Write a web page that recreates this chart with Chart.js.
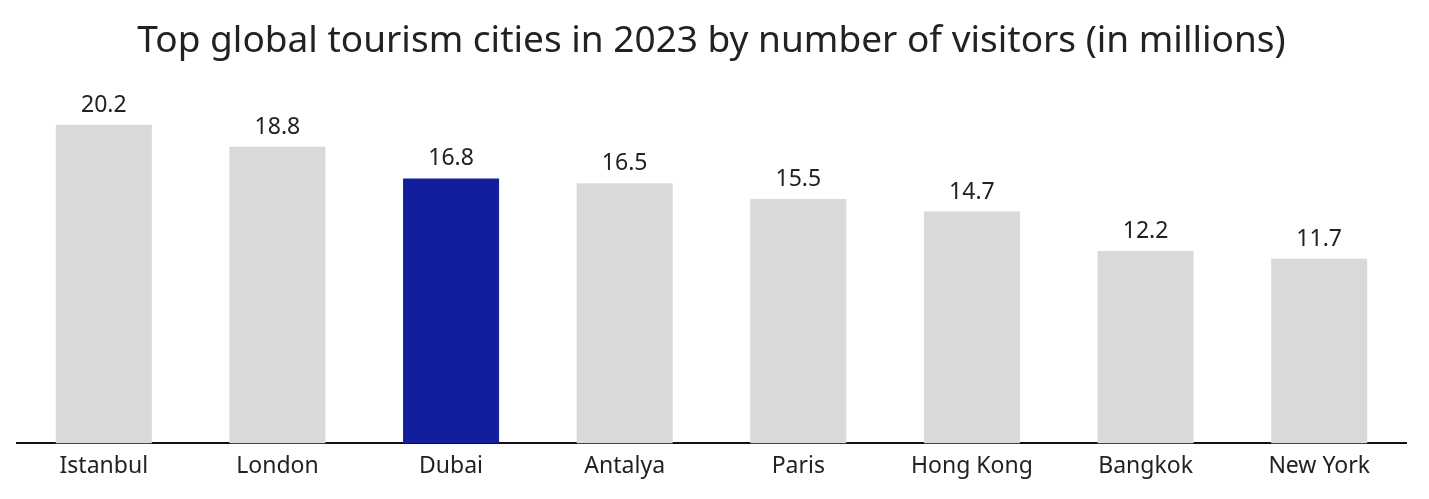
<!DOCTYPE html>
<html>
<head>
<meta charset="utf-8">
<script src="https://cdn.jsdelivr.net/npm/chart.js@4"></script>
<style>
    html, body { margin: 0; padding: 0; background: #ffffff; }
    #wrap { width: 1429px; height: 499px; }
</style>
</head>
<body>
<div id="wrap"><canvas id="tourismChart"></canvas></div>
<script>
// data
const cities = ["Istanbul", "London", "Dubai", "Antalya", "Paris", "Hong Kong", "Bangkok", "New York"];
const visitors = [20.2, 18.8, 16.8, 16.5, 15.5, 14.7, 12.2, 11.7];
const highlightCity = "Dubai";

const grayBar = "#d7d9da";
const blueBar = "#131e9c";
const textColor = "#222222";

// draws the value above every bar
const valueLabels = {
    id: "valueLabels",
    afterDatasetsDraw(chart) {
        const ctx = chart.ctx;
        const meta = chart.getDatasetMeta(0);
        ctx.save();
        ctx.font = "23px 'Noto Sans'";
        ctx.fillStyle = textColor;
        ctx.textAlign = "center";
        ctx.textBaseline = "alphabetic";
        meta.data.forEach((bar, i) => {
            ctx.fillText(visitors[i].toFixed(1), bar.x, bar.y - 13);
        });
        ctx.restore();
    }
};

document.addEventListener("DOMContentLoaded", function () {
    const ctx = document.getElementById("tourismChart");
    new Chart(ctx, {
        type: "bar",
        data: {
            labels: cities,
            datasets: [{
                data: visitors,
                backgroundColor: cities.map(c => c === highlightCity ? blueBar : grayBar),
                borderWidth: 0,
                categoryPercentage: 1,
                barPercentage: 0.553
            }]
        },
        options: {
            responsive: true,
            maintainAspectRatio: false,
            animation: false,
            layout: {
                padding: { left: 17, right: 23, top: 0, bottom: 10 }
            },
            plugins: {
                legend: { display: false },
                tooltip: { enabled: false },
                title: {
                    display: true,
                    text: "Top global tourism cities in 2023 by number of visitors (in millions)",
                    color: textColor,
                    font: { family: "'Noto Sans'", size: 37, weight: "normal", lineHeight: 1.2 },
                    padding: { top: 19, bottom: 33 }
                }
            },
            scales: {
                x: {
                    grid: { display: false, drawTicks: false },
                    border: { display: true, color: "#111111", width: 2 },
                    ticks: {
                        color: textColor,
                        padding: 9,
                        font: { family: "'Noto Sans'", size: 23 }
                    }
                },
                y: {
                    display: false,
                    min: 0,
                    max: 22
                }
            }
        },
        plugins: [valueLabels]
    });
});
</script>
</body>
</html>
